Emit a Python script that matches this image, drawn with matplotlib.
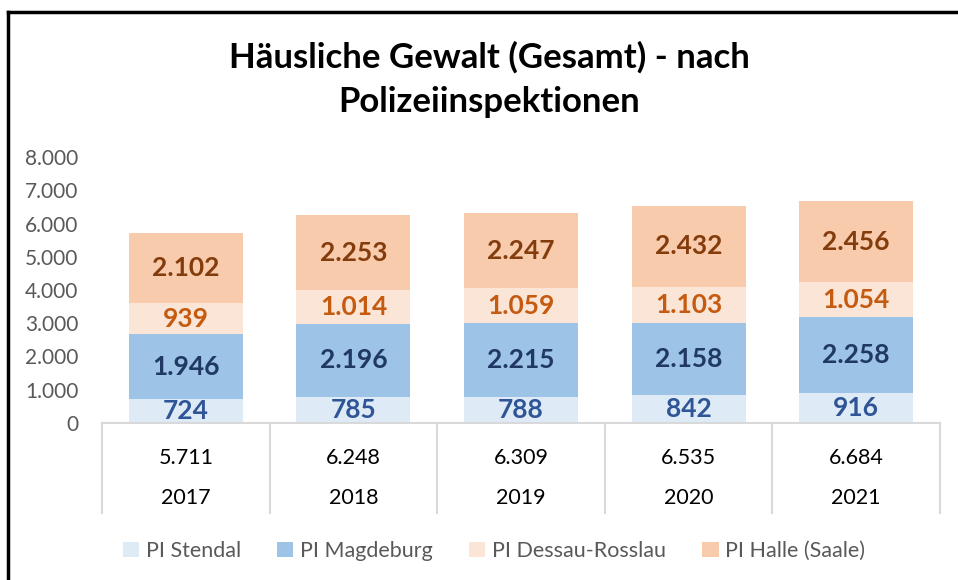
import matplotlib.pyplot as plt
import numpy as np
from matplotlib.patches import Patch
from matplotlib.lines import Line2D
import matplotlib.transforms as mtransforms

plt.rcParams["font.family"] = ["Lato", "DejaVu Sans"]

# Daten
years = ["2017", "2018", "2019", "2020", "2021"]
stendal = [724, 785, 788, 842, 916]
magdeburg = [1946, 2196, 2215, 2158, 2258]
dessau = [939, 1014, 1059, 1103, 1054]
halle = [2102, 2253, 2247, 2432, 2456]
totals = [5711, 6248, 6309, 6535, 6684]

series_names = ["PI Stendal", "PI Magdeburg", "PI Dessau-Rosslau", "PI Halle (Saale)"]
series_values = [stendal, magdeburg, dessau, halle]
fill_colors = ["#DEEBF7", "#9DC3E6", "#FBE5D6", "#F8CBAD"]
label_colors = ["#2F5597", "#203864", "#C55A11", "#843C0C"]


def de(v):
    # deutsche Tausendertrennung
    return f"{v:,}".replace(",", ".")


fig = plt.figure(figsize=(9.58, 5.8), dpi=100)
ax = fig.add_axes([0.1065, 0.2707, 0.8747, 0.4586])

x = np.arange(len(years))
bottom = np.zeros(len(years))
for vals, fc, lc in zip(series_values, fill_colors, label_colors):
    vals = np.array(vals)
    ax.bar(x, vals, 0.68, bottom=bottom, color=fc, edgecolor="none")
    for xi, b, v in zip(x, bottom, vals):
        ax.text(xi, b + v / 2, de(int(v)), ha="center", va="center",
                fontsize=19, fontweight="bold", color=lc)
    bottom += vals

ax.set_xlim(-0.5, len(years) - 0.5)
ax.set_ylim(0, 8000)
ax.set_yticks(np.arange(0, 8001, 1000))
ax.set_yticklabels([de(t) for t in range(0, 8001, 1000)])
ax.tick_params(axis="y", length=0, pad=17, labelsize=15, labelcolor="#595959")
ax.tick_params(axis="x", length=0, labelbottom=False)
for s in ["top", "right", "left"]:
    ax.spines[s].set_visible(False)
ax.spines["bottom"].set_color("#D9D9D9")
ax.spines["bottom"].set_linewidth(1.5)

# Datentabelle unter der Achse
trans = mtransforms.blended_transform_factory(ax.transData, ax.transAxes)
for b in np.arange(-0.5, len(years), 1.0):
    ax.add_line(Line2D([b, b], [0, -0.338], transform=trans, color="#D9D9D9",
                       lw=1.5, clip_on=False))
for xi, t, y in zip(x, totals, years):
    ax.text(xi, -0.1316, de(t), transform=trans, ha="center", va="center",
            fontsize=15.5, color="#000000")
    ax.text(xi, -0.282, y, transform=trans, ha="center", va="center",
            fontsize=15.5, color="#000000")

# Titel
fig.text(0.511, 1 - 57 / 580, "Häusliche Gewalt (Gesamt) - nach", ha="center",
         va="center", fontsize=25, fontweight="bold")
fig.text(0.511, 1 - 102 / 580, "Polizeiinspektionen", ha="center",
         va="center", fontsize=25, fontweight="bold")

# Legende
handles = [Patch(facecolor=c, edgecolor="none") for c in fill_colors]
leg = fig.legend(handles, series_names, loc="center", ncol=4,
                 bbox_to_anchor=(494 / 958, 1 - 551 / 580), frameon=False,
                 fontsize=15.5, handlelength=0.75, handleheight=0.75,
                 handletextpad=0.3, columnspacing=1.7)
for t in leg.get_texts():
    t.set_color("#595959")

# Rahmen
fig.add_artist(Line2D([8 / 958, 1], [1 - 12 / 580, 1 - 12 / 580], color="black", lw=2.5))
fig.add_artist(Line2D([8 / 958, 8 / 958], [0, 1 - 12 / 580], color="black", lw=2.5))

fig.savefig("out.png", dpi=100)
